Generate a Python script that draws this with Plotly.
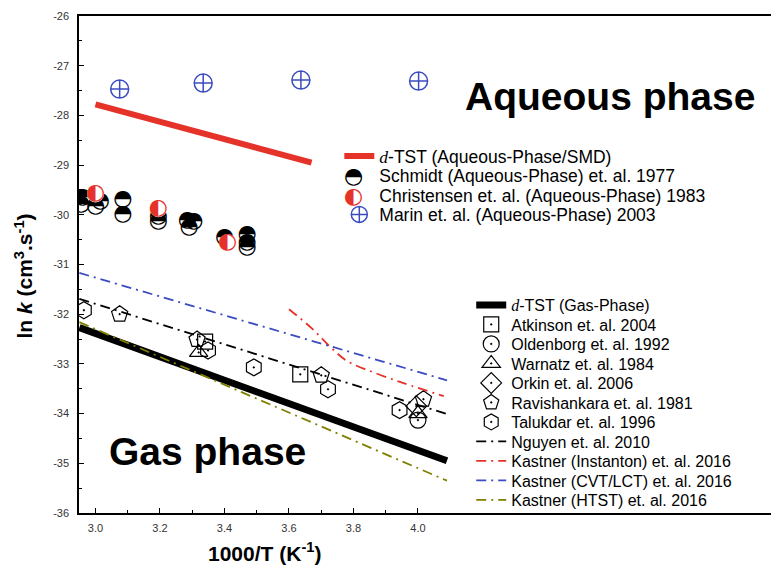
import plotly.graph_objects as go

# ---------------- data ----------------
aq_dtst_x = [3.00, 3.67]
aq_dtst_y = [-27.78, -28.95]

schmidt_x = [2.955, 2.96, 3.00, 3.015, 3.085, 3.085, 3.195, 3.195, 3.285, 3.305, 3.29, 3.40, 3.47, 3.47, 3.47]
schmidt_y = [-29.80, -29.66, -29.83, -29.73, -29.69, -30.00, -30.03, -30.13, -30.12, -30.13, -30.26, -30.46, -30.40, -30.56, -30.66]

christensen_x = [3.00, 3.195, 3.41]
christensen_y = [-29.58, -29.88, -30.56]

marin_x = [3.075, 3.334, 3.637, 4.002]
marin_y = [-27.47, -27.35, -27.29, -27.31]

gas_dtst_x = [2.95, 4.09]
gas_dtst_y = [-32.27, -34.95]

atkinson_x = [3.34, 3.635]
atkinson_y = [-32.55, -33.21]
oldenborg_x = [4.00]
oldenborg_y = [-34.13]
warnatz_x = [3.32, 4.00]
warnatz_y = [-32.77, -34.00]
orkin_x = [3.995]
orkin_y = [-33.85]
ravi_x = [3.075, 3.315, 3.70, 4.017]
ravi_y = [-32.00, -32.51, -33.23, -33.71]
taluk_x = [2.964, 3.349, 3.491, 3.721, 3.943]
taluk_y = [-31.92, -32.73, -33.07, -33.51, -33.93]

nguyen_x = [2.95, 4.095]
nguyen_y = [-31.69, -34.02]
inst_x = [3.60, 3.67, 3.73, 3.78, 3.85, 3.93, 3.98, 4.08]
inst_y = [-31.90, -32.28, -32.67, -32.94, -33.14, -33.33, -33.44, -33.65]
cvt_x = [2.95, 4.09]
cvt_y = [-31.17, -33.33]
htst_x = [2.95, 4.09]
htst_y = [-32.16, -35.35]

x_ticks = [3.0, 3.2, 3.4, 3.6, 3.8, 4.0]
x_ticktext = ["3.0", "3.2", "3.4", "3.6", "3.8", "4.0"]
y_ticks = [-26, -27, -28, -29, -30, -31, -32, -33, -34, -35, -36]

# ---------------- style ----------------
FONT = "Liberation Sans"
RED = "#e5332a"
BLUE = "#3a4cc0"
OLIVE = "#7f7f00"
DASH = "10px,5px,2px,5px"
D_ITAL = "<i><span style='font-family:Liberation Serif'>d</span></i>"

OFF = 8                      # page body margin of the browser
SW, SH = 779, 566            # screen size
W, H = SW - OFF, SH - OFF    # figure size
PLOT_L, PLOT_T, PLOT_B = 78.5, 16, 513   # plot area in screen pixels
L, R, T, B = PLOT_L - OFF, 0, PLOT_T - OFF, SH - PLOT_B
PW, PH = W - L - R, H - T - B


def px2paper(px, py):
    return (px - PLOT_L) / PW, (PLOT_B - py) / PH


fig = go.Figure()

# aqueous phase
fig.add_trace(go.Scatter(x=aq_dtst_x, y=aq_dtst_y, mode="lines",
                         line=dict(color=RED, width=6),
                         name=D_ITAL + "-TST (Aqueous-Phase/SMD)", legend="legend"))
fig.add_trace(go.Scatter(x=schmidt_x, y=schmidt_y, mode="markers",
                         marker=dict(symbol="circle", size=17, color="white",
                                     line=dict(width=0)), showlegend=False, hoverinfo="skip"))
fig.add_trace(go.Scatter(x=schmidt_x, y=schmidt_y, mode="text", text=["◓"] * len(schmidt_x),
                         textfont=dict(family="DejaVu Sans", size=22, color="black"),
                         showlegend=False))
fig.add_trace(go.Scatter(x=[None], y=[None], mode="markers",
                         marker=dict(color="rgba(0,0,0,0)"),
                         name="Schmidt (Aqueous-Phase) et. al. 1977", legend="legend2"))
fig.add_trace(go.Scatter(x=christensen_x, y=christensen_y, mode="markers",
                         marker=dict(symbol="circle", size=17, color="white",
                                     line=dict(width=0)), showlegend=False, hoverinfo="skip"))
fig.add_trace(go.Scatter(x=christensen_x, y=christensen_y, mode="text",
                         text=["◐"] * len(christensen_x),
                         textfont=dict(family="DejaVu Sans", size=22, color=RED),
                         showlegend=False))
fig.add_trace(go.Scatter(x=[None], y=[None], mode="markers",
                         marker=dict(color="rgba(0,0,0,0)"),
                         name="Christensen et. al. (Aqueous-Phase) 1983", legend="legend3"))
fig.add_trace(go.Scatter(x=marin_x, y=marin_y, mode="markers",
                         marker=dict(symbol="circle-cross-open", size=18, color=BLUE,
                                     line=dict(width=1.5, color=BLUE)),
                         name="Marin et. al. (Aqueous-Phase) 2003", legend="legend4"))

# gas phase
fig.add_trace(go.Scatter(x=gas_dtst_x, y=gas_dtst_y, mode="lines",
                         line=dict(color="black", width=7),
                         name=D_ITAL + "-TST (Gas-Phase)", legend="legend5"))
gas_sets = [
    (atkinson_x, atkinson_y, "square-open-dot", 15, "Atkinson et. al. 2004"),
    (oldenborg_x, oldenborg_y, "circle-open-dot", 16, "Oldenborg et. al. 1992"),
    (warnatz_x, warnatz_y, "triangle-up-open-dot", 16, "Warnatz et. al. 1984"),
    (orkin_x, orkin_y, "diamond-open-dot", 16, "Orkin et. al. 2006"),
    (ravi_x, ravi_y, "pentagon-open-dot", 17, "Ravishankara et. al. 1981"),
    (taluk_x, taluk_y, "hexagon-open-dot", 17, "Talukdar et. al. 1996"),
]
for i, (xs, ys, sym, sz, nm) in enumerate(gas_sets):
    fig.add_trace(go.Scatter(x=xs, y=ys, mode="markers",
                             marker=dict(symbol=sym, size=sz, color="black",
                                         line=dict(width=1.2, color="black")),
                             name=nm, legend="legend%d" % (6 + i)))
line_sets = [
    (nguyen_x, nguyen_y, "black", "Nguyen et. al. 2010"),
    (inst_x, inst_y, RED, "Kastner (Instanton) et. al. 2016"),
    (cvt_x, cvt_y, BLUE, "Kastner (CVT/LCT) et. al. 2016"),
    (htst_x, htst_y, OLIVE, "Kastner (HTST) et. al. 2016"),
]
for i, (xs, ys, col, nm) in enumerate(line_sets):
    fig.add_trace(go.Scatter(x=xs, y=ys, mode="lines",
                             line=dict(color=col, width=1.8, dash=DASH, shape="spline"),
                             name=nm, legend="legend%d" % (12 + i)))

# ---------------- legends (one per entry) ----------------
aq_rows = [156, 175.5, 195, 214.5]
gas_rows = [305, 324.5, 344, 363.5, 383, 402.5, 422, 441.5, 461, 480.5, 500]
legends = {}
for i, py in enumerate(aq_rows):
    lx, ly = px2paper(379 - 40, py)
    legends[i + 1] = dict(x=lx, y=ly, xanchor="left", yanchor="middle",
                          font=dict(family=FONT, size=17.5, color="black"))
for i, py in enumerate(gas_rows):
    lx, ly = px2paper(511 - 40, py)
    legends[i + 5] = dict(x=lx, y=ly, xanchor="left", yanchor="middle",
                          font=dict(family=FONT, size=16, color="black"))
layout_legends = {}
for k, v in legends.items():
    v.update(bgcolor="rgba(0,0,0,0)", borderwidth=0)
    layout_legends["legend" if k == 1 else "legend%d" % k] = v

# ---------------- annotations ----------------
ann = []
for glyph, col, py in [("◓", "black", aq_rows[1]), ("◐", RED, aq_rows[2])]:
    gx, gy = px2paper(353, py)
    ann.append(dict(x=gx, y=gy, xref="paper", yref="paper", text=glyph, showarrow=False,
                    xanchor="center", yanchor="middle",
                    font=dict(family="DejaVu Sans", size=22, color=col)))
ax_, ay_ = px2paper(609.5, 97)
ann.append(dict(x=ax_, y=ay_, xref="paper", yref="paper", text="<b>Aqueous phase</b>",
                showarrow=False, xanchor="center", yanchor="middle",
                font=dict(family=FONT, size=39, color="black")))
gx_, gy_ = px2paper(207, 451)
ann.append(dict(x=gx_, y=gy_, xref="paper", yref="paper", text="<b>Gas phase</b>",
                showarrow=False, xanchor="center", yanchor="middle",
                font=dict(family=FONT, size=39, color="black")))
tx_, ty_ = px2paper(264, 552)
ann.append(dict(x=tx_, y=ty_, xref="paper", yref="paper",
                text="<b>1000/T (K<sup>-1</sup>)</b>", showarrow=False,
                xanchor="center", yanchor="middle",
                font=dict(family=FONT, size=21, color="black")))
yx_, yy_ = px2paper(23, 276)
ann.append(dict(x=yx_, y=yy_, xref="paper", yref="paper", textangle=-90,
                text="<b>ln <i>k</i> (cm<sup>3</sup>.s<sup>-1</sup>)</b>", showarrow=False,
                xanchor="center", yanchor="middle",
                font=dict(family=FONT, size=21, color="black")))

fig.update_layout(
    width=W, height=H,
    margin=dict(l=L, r=R, t=T, b=B, pad=0),
    paper_bgcolor="white", plot_bgcolor="white",
    font=dict(family=FONT, color="black"),
    annotations=ann,
    **layout_legends,
)
fig.update_xaxes(range=[3.0 - (95 - PLOT_L) / 322.7, 3.0 + (SW - 95) / 322.7],
                 tickmode="array", automargin=False,
                 tickvals=x_ticks, ticktext=x_ticktext, ticks="inside", ticklen=5,
                 tickwidth=1, tickcolor="black", showline=True, linecolor="black",
                 linewidth=1.5, mirror=True, showgrid=False, zeroline=False,
                 tickfont=dict(family=FONT, size=11, color="#333"),
                 ticklabelstandoff=4,
                 minor=dict(tickvals=[3.1, 3.3, 3.5, 3.7, 3.9], ticks="inside",
                            ticklen=3, tickcolor="black", showgrid=False))
fig.update_yaxes(range=[-36, -26], tickmode="array", tickvals=y_ticks, automargin=False,
                 ticktext=[str(v) for v in y_ticks], ticks="inside", ticklen=5,
                 tickwidth=1, tickcolor="black", showline=True, linecolor="black",
                 linewidth=1.5, mirror=False, showgrid=False, zeroline=False,
                 tickfont=dict(family=FONT, size=11, color="#333"),
                 ticklabelstandoff=6,
                 minor=dict(tickvals=[-26.5 - i for i in range(10)], ticks="inside",
                            ticklen=3, tickcolor="black", showgrid=False))

fig.write_html("out.html")
